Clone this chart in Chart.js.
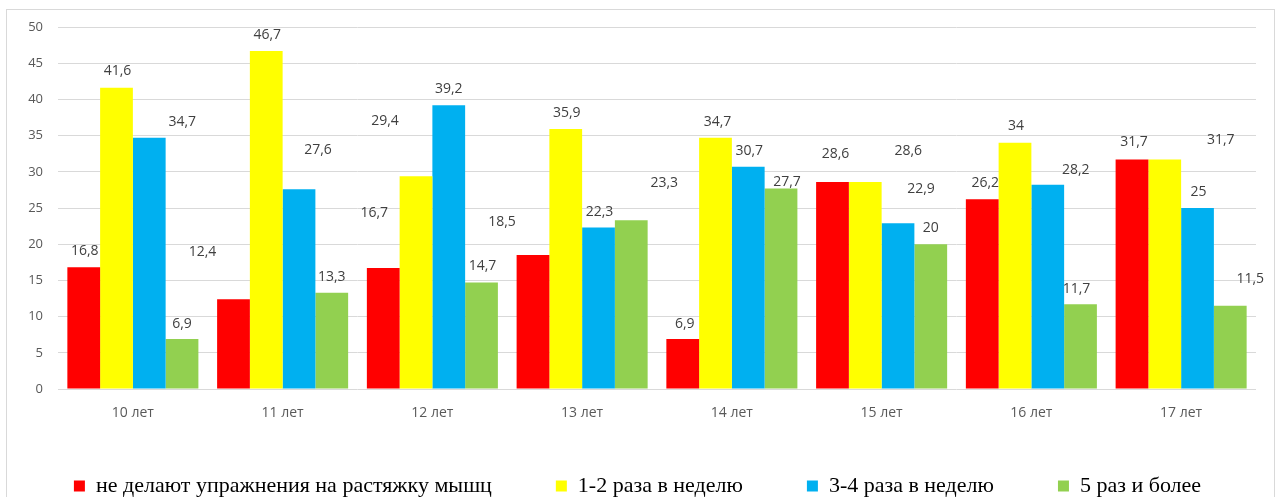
<!DOCTYPE html>
<html lang="ru">
<head>
<meta charset="utf-8">
<title>Растяжка мышц по возрастам</title>
<script src="https://cdn.jsdelivr.net/npm/chart.js@4/dist/chart.umd.min.js"></script>
<style>
  html, body { margin: 0; padding: 0; background: #ffffff; overflow: hidden; }
  body { width: 1275px; height: 497px; position: relative; }
  #frame {
    position: absolute; left: 6px; top: 9px;
    width: 1267px; height: 600px;
    border: 1px solid #d9d9d9;
  }
  #chart { position: absolute; left: 0; top: 0; }
</style>
</head>
<body>
<div id="frame"></div>
<canvas id="chart" width="1275" height="507"></canvas>
<script>
// Age groups
const ages = ['10 лет', '11 лет', '12 лет', '13 лет', '14 лет', '15 лет', '16 лет', '17 лет'];

// Share of pupils (%) by how often they stretch
const seriesNames = [
  'не делают упражнения на растяжку мышц',
  '1-2 раза в неделю',
  '3-4 раза в неделю',
  '5 раз и более'
];
const noStretch   = [16.8, 12.4, 16.7, 18.5, 6.9, 28.6, 26.2, 31.7];
const oneTwo      = [41.6, 46.7, 29.4, 35.9, 34.7, 28.6, 34, 31.7];
const threeFour   = [34.7, 27.6, 39.2, 22.3, 30.7, 22.9, 28.2, 25];
const fivePlus    = [6.9, 13.3, 14.7, 23.3, 27.7, 20, 11.7, 11.5];

// Y axis ticks
const yTicks = [0, 5, 10, 15, 20, 25, 30, 35, 40, 45, 50];

const seriesColors = ['#ff0000', '#ffff00', '#00b0f0', '#92d050'];

// Hand-placed value labels: [dx, dy] from the top centre of each bar
const labelNudge = [
  [[1, -16], [-31, -47], [-9, -55], [-31, -33], [2, -15], [3, -28], [3, -16], [2, -17]],
  [[1, -17], [1, -16], [-31, -55], [1, -16], [2, -16], [43, -31], [1, -17], [56, -19]],
  [[33, -16], [19, -39], [0, -16], [1, -16], [1, -16], [23, -34], [28, -15], [1, -16]],
  [[0, -15], [0, -16], [1, -17], [33, -37], [6, -6], [0, -16], [-4, -15], [20, -27]]
];

const fmt = v => String(v).replace('.', ',');

const valueLabels = {
  id: 'valueLabels',
  afterDatasetsDraw(chart) {
    const ctx = chart.ctx;
    ctx.save();
    ctx.font = '14px "Open Sans"';
    ctx.fillStyle = '#404040';
    ctx.textAlign = 'center';
    ctx.textBaseline = 'middle';
    chart.data.datasets.forEach((ds, i) => {
      chart.getDatasetMeta(i).data.forEach((bar, j) => {
        const [dx, dy] = labelNudge[i][j];
        ctx.fillText(fmt(ds.data[j]), bar.x + dx, bar.y + dy);
      });
    });
    ctx.restore();
  }
};

// The category axis box is kept short so the legend sits close to it;
// widen its clip region afterwards so the age labels are not cut off.
const roomForAgeLabels = {
  id: 'roomForAgeLabels',
  afterLayout(chart) {
    chart.scales.x.bottom += 25;
  }
};

const seriesValues = [noStretch, oneTwo, threeFour, fivePlus];

new Chart(document.getElementById('chart'), {
  type: 'bar',
  data: {
    labels: ages,
    datasets: seriesValues.map((vals, i) => ({
      label: seriesNames[i],
      data: vals,
      backgroundColor: seriesColors[i],
      borderWidth: 0,
      categoryPercentage: 0.875,
      barPercentage: 1.0
    }))
  },
  options: {
    responsive: false,
    devicePixelRatio: 1,
    animation: false,
    layout: { padding: { left: 0, right: 0, top: 27, bottom: 0 } },
    plugins: {
      tooltip: { enabled: false },
      legend: {
        position: 'bottom',
        labels: {
          boxWidth: 11,
          boxHeight: 11,
          padding: 64,
          color: '#000000',
          font: { family: '"Liberation Serif", "Times New Roman", serif', size: 22 }
        }
      }
    },
    scales: {
      x: {
        grid: { display: false, drawTicks: false },
        border: { display: false },
        ticks: {
          color: '#595959',
          padding: 16,
          autoSkip: false,
          maxRotation: 0,
          font: { family: '"Open Sans"', size: 14 }
        },
        afterFit(s) { s.height = 22; }
      },
      y: {
        min: 0,
        max: 50,
        afterBuildTicks(s) { s.ticks = yTicks.map(v => ({ value: v })); },
        grid: { color: '#d9d9d9', lineWidth: 1, drawTicks: false },
        border: { display: false },
        ticks: {
          color: '#595959',
          padding: 15,
          font: { family: '"Open Sans"', size: 13 }
        },
        afterFit(s) { s.width = 58; }
      },
      edge: {
        type: 'linear',
        position: 'right',
        display: true,
        grid: { display: false },
        border: { display: false },
        ticks: { display: false },
        afterFit(s) { s.width = 19; }
      }
    }
  },
  plugins: [valueLabels, roomForAgeLabels]
});
</script>
</body>
</html>
